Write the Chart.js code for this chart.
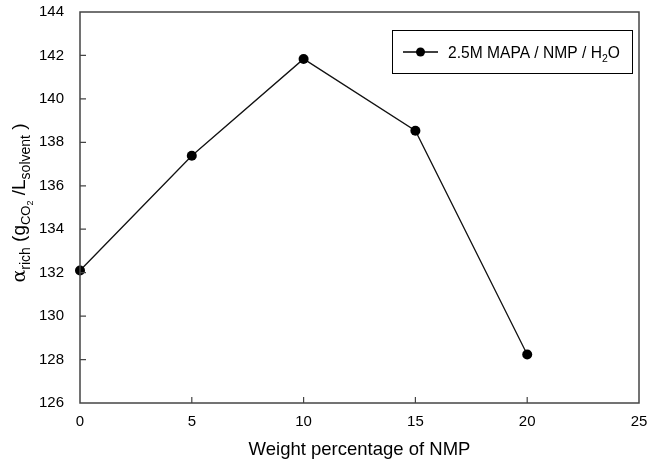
<!DOCTYPE html>
<html><head><meta charset="utf-8">
<script src="https://cdn.jsdelivr.net/npm/chart.js@4"></script>
<style>html,body{margin:0;padding:0;background:#fff}#wrap{width:648px;height:464px}</style>
</head><body><div id="wrap"><canvas id="c" width="648" height="464"></canvas></div>
<script>
const nmpPercent = [0, 5, 10, 15, 20];
const alphaRich = [132.1, 137.38, 141.84, 138.53, 128.23];
const seriesLabel = "2.5M MAPA / NMP / H";
const xTitle = "Weight percentage of NMP";
const FONT = '"Liberation Sans", Arial, sans-serif';

function drawRich(ctx, parts, x, y) {
  let cx = x;
  for (const [t, s, dy, fam] of parts) {
    ctx.font = s + 'px ' + (fam || FONT);
    ctx.fillText(t, cx, y + dy);
    cx += ctx.measureText(t).width;
  }
  return cx - x;
}
function measureRich(ctx, parts) {
  let w = 0;
  for (const [t, s, dy, fam] of parts) { ctx.font = s + 'px ' + (fam || FONT); w += ctx.measureText(t).width; }
  return w;
}

const framePlugin = {
  id: 'frame',
  afterDraw(chart) {
    const {ctx, chartArea: a, scales: {x, y}} = chart;
    ctx.save();
    ctx.strokeStyle = '#444';
    ctx.lineWidth = 1.5;
    ctx.strokeRect(a.left, a.top, a.right - a.left, a.bottom - a.top);
    ctx.lineWidth = 1.2;
    ctx.beginPath();
    x.ticks.forEach(t => { if (t.value > x.min && t.value < x.max) { const px = x.getPixelForValue(t.value); ctx.moveTo(px, a.bottom); ctx.lineTo(px, a.bottom - 6); } });
    y.ticks.forEach(t => { if (t.value > y.min && t.value < y.max) { const py = y.getPixelForValue(t.value); ctx.moveTo(a.left, py); ctx.lineTo(a.left + 6, py); } });
    ctx.stroke();

    ctx.fillStyle = '#000';
    ctx.textBaseline = 'alphabetic';
    ctx.font = '18.5px ' + FONT;
    ctx.textAlign = 'center';
    ctx.fillText(xTitle, (a.left + a.right) / 2, 455);
    ctx.textAlign = 'left';
    const parts = [['α', 19, 0, '"DejaVu Serif", serif'], ['rich', 14, 5], [' (g', 19, 0], ['CO', 13, 5], ['2', 9, 8], [' /L', 19, 0], ['solvent', 14, 5], [' )', 19, 0]];
    ctx.save();
    ctx.translate(25, 203);
    ctx.rotate(-Math.PI / 2);
    const w = measureRich(ctx, parts);
    drawRich(ctx, parts, -w / 2, 0);
    ctx.restore();

    ctx.lineWidth = 1;
    ctx.strokeStyle = '#000';
    ctx.strokeRect(392.5, 30.5, 240, 43);
    ctx.lineWidth = 1.3;
    ctx.beginPath(); ctx.moveTo(403, 52); ctx.lineTo(438, 52); ctx.stroke();
    ctx.beginPath(); ctx.arc(420.5, 52, 4.5, 0, Math.PI * 2); ctx.fill();
    drawRich(ctx, [[seriesLabel, 15.6, 0], ['2', 10.5, 4], ['O', 15.6, 0]], 448, 57.5);
    ctx.restore();
  }
};

new Chart(document.getElementById('c'), {
  type: 'line',
  data: {
    datasets: [{
      label: seriesLabel + '2O',
      data: nmpPercent.map((v, i) => ({x: v, y: alphaRich[i]})),
      borderColor: '#111',
      borderWidth: 1.3,
      backgroundColor: '#000',
      pointRadius: 5,
      pointHoverRadius: 5,
      pointStyle: 'circle',
      pointBorderWidth: 0,
      tension: 0
    }]
  },
  options: {
    responsive: false,
    animation: false,
    clip: false,
    layout: {padding: {left: 30, top: 12, right: 9, bottom: 0}},
    plugins: {legend: {display: false}, tooltip: {enabled: false}},
    scales: {
      x: {
        type: 'linear', min: 0, max: 25,
        ticks: {stepSize: 5, padding: 2, color: '#000', font: {family: FONT, size: 15}, maxRotation: 0},
        grid: {display: false}, border: {display: false},
        afterFit(s) { s.height = 61; s.paddingLeft = 0; s.paddingRight = 0; }
      },
      y: {
        type: 'linear', min: 126, max: 144,
        ticks: {stepSize: 2, padding: 8, color: '#000', font: {family: FONT, size: 15}},
        grid: {display: false}, border: {display: false},
        afterFit(s) { s.width = 50; s.paddingTop = 0; s.paddingBottom = 0; }
      }
    }
  },
  plugins: [framePlugin]
});
</script></body></html>
